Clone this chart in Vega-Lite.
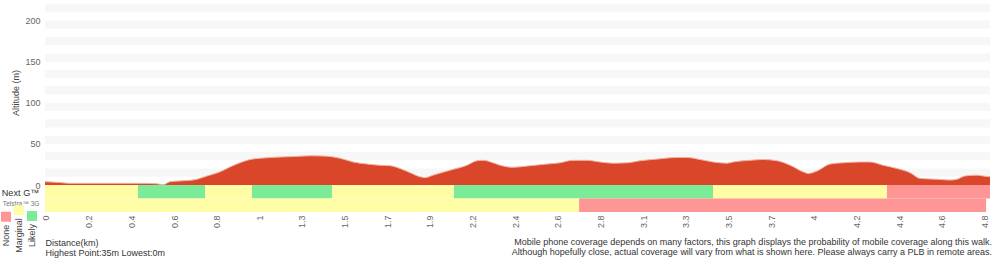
{
  "$schema": "https://vega.github.io/schema/vega-lite/v6.json",
  "padding": {"left": 1, "top": 0, "right": 10, "bottom": 0},
  "bounds": "flush",
  "spacing": 0,
  "config": {
    "view": {"stroke": null},
    "font": "Liberation Sans",
    "axis": {"labelFont": "Liberation Sans", "titleFont": "Liberation Sans", "labelColor": "#666", "titleColor": "#444", "titleFontWeight": "normal"}
  },
  "title": {
    "text": ["Mobile phone coverage depends on many factors, this graph displays the probability of mobile coverage along this walk.", "Although hopefully close, actual coverage will vary from what is shown here. Please always carry a PLB in remote areas."],
    "orient": "bottom", "anchor": "end", "fontSize": 9, "fontWeight": "normal", "color": "#333", "lineHeight": 10, "offset": -20, "font": "Liberation Sans"
  },
  "vconcat": [
    {
      "width": 945,
      "height": 185,
      "layer": [
        {
          "data": {"values": [
            {"lo": 10, "hi": 20}, {"lo": 30, "hi": 40}, {"lo": 50, "hi": 60}, {"lo": 70, "hi": 80},
            {"lo": 90, "hi": 100}, {"lo": 110, "hi": 120}, {"lo": 130, "hi": 140}, {"lo": 150, "hi": 160},
            {"lo": 170, "hi": 180}, {"lo": 190, "hi": 200}, {"lo": 210, "hi": 220}
          ]},
          "mark": {"type": "rect", "color": "#f7f7f7"},
          "encoding": {
            "y": {"field": "lo", "type": "quantitative", "scale": {"domain": [0, 225], "nice": false},
                  "axis": {"title": "Altitude (m)", "values": [0, 50, 100, 150, 200], "grid": false, "domain": false, "ticks": false, "labelFontSize": 9, "labelPadding": 5, "titleFontSize": 9, "titlePadding": 4}},
            "y2": {"field": "hi"}
          }
        },
        {
          "data": {"name": "profile", "values": [
            {"km": 0.000, "alt": 4}, {"km": 0.077, "alt": 3}, {"km": 0.128, "alt": 2}, {"km": 0.487, "alt": 2},
            {"km": 0.574, "alt": 1.5}, {"km": 0.605, "alt": 0.3}, {"km": 0.640, "alt": 4}, {"km": 0.692, "alt": 5},
            {"km": 0.758, "alt": 6}, {"km": 0.830, "alt": 11}, {"km": 0.897, "alt": 16}, {"km": 0.948, "alt": 22},
            {"km": 0.999, "alt": 27}, {"km": 1.050, "alt": 31}, {"km": 1.101, "alt": 32.5}, {"km": 1.204, "alt": 34},
            {"km": 1.306, "alt": 35}, {"km": 1.358, "alt": 35.5}, {"km": 1.445, "alt": 35}, {"km": 1.511, "alt": 32.5},
            {"km": 1.578, "alt": 28}, {"km": 1.650, "alt": 25.5}, {"km": 1.716, "alt": 24}, {"km": 1.767, "alt": 23.5},
            {"km": 1.819, "alt": 20}, {"km": 1.870, "alt": 15}, {"km": 1.921, "alt": 10}, {"km": 1.947, "alt": 9},
            {"km": 1.988, "alt": 12}, {"km": 2.075, "alt": 18}, {"km": 2.162, "alt": 24}, {"km": 2.213, "alt": 29.5},
            {"km": 2.244, "alt": 30}, {"km": 2.295, "alt": 27}, {"km": 2.331, "alt": 24}, {"km": 2.398, "alt": 21.5},
            {"km": 2.469, "alt": 23}, {"km": 2.572, "alt": 25.5}, {"km": 2.638, "alt": 27}, {"km": 2.705, "alt": 30},
            {"km": 2.777, "alt": 30}, {"km": 2.843, "alt": 28}, {"km": 2.910, "alt": 26.5}, {"km": 2.982, "alt": 27},
            {"km": 3.048, "alt": 29.5}, {"km": 3.135, "alt": 31.5}, {"km": 3.238, "alt": 33.5}, {"km": 3.289, "alt": 33.5},
            {"km": 3.356, "alt": 31}, {"km": 3.422, "alt": 28}, {"km": 3.494, "alt": 26.5}, {"km": 3.525, "alt": 28},
            {"km": 3.612, "alt": 30}, {"km": 3.678, "alt": 31}, {"km": 3.750, "alt": 29.5}, {"km": 3.817, "alt": 24},
            {"km": 3.883, "alt": 16}, {"km": 3.909, "alt": 14}, {"km": 3.955, "alt": 17}, {"km": 4.022, "alt": 25.5},
            {"km": 4.088, "alt": 27}, {"km": 4.175, "alt": 28}, {"km": 4.226, "alt": 28}, {"km": 4.293, "alt": 24},
            {"km": 4.365, "alt": 20}, {"km": 4.431, "alt": 15}, {"km": 4.483, "alt": 8}, {"km": 4.570, "alt": 7},
            {"km": 4.636, "alt": 6}, {"km": 4.672, "alt": 7}, {"km": 4.713, "alt": 11}, {"km": 4.775, "alt": 12},
            {"km": 4.805, "alt": 11}, {"km": 4.841, "alt": 10}
          ]},
          "layer": [
            {
              "mark": {"type": "area", "color": "#d9462a", "interpolate": "monotone"},
              "encoding": {
                "x": {"field": "km", "type": "quantitative", "scale": {"domain": [0, 4.841], "nice": false}, "axis": null},
                "y": {"field": "alt", "type": "quantitative", "scale": {"domain": [0, 225], "nice": false},
                      "axis": {"title": "Altitude (m)", "values": [0, 50, 100, 150, 200], "grid": false, "domain": false, "ticks": false, "labelFontSize": 9, "labelPadding": 5, "titleFontSize": 9, "titlePadding": 4}}
              }
            },
            {
              "mark": {"type": "line", "color": "#f0b4a4", "strokeWidth": 1, "interpolate": "monotone"},
              "encoding": {
                "x": {"field": "km", "type": "quantitative"},
                "y": {"field": "alt", "type": "quantitative"}
              }
            }
          ]
        }
      ]
    },
    {
      "width": 945,
      "height": 27,
      "data": {"values": [
        {"network": "Next G™", "start": 0.000, "end": 0.476, "coverage": "Marginal"},
        {"network": "Next G™", "start": 0.476, "end": 0.820, "coverage": "Likely"},
        {"network": "Next G™", "start": 0.820, "end": 1.060, "coverage": "Marginal"},
        {"network": "Next G™", "start": 1.060, "end": 1.470, "coverage": "Likely"},
        {"network": "Next G™", "start": 1.470, "end": 2.095, "coverage": "Marginal"},
        {"network": "Next G™", "start": 2.095, "end": 3.422, "coverage": "Likely"},
        {"network": "Next G™", "start": 3.422, "end": 4.313, "coverage": "Marginal"},
        {"network": "Next G™", "start": 4.313, "end": 4.841, "coverage": "None"},
        {"network": "Telstra™ 3G", "start": 0.000, "end": 2.736, "coverage": "Marginal"},
        {"network": "Telstra™ 3G", "start": 2.736, "end": 4.821, "coverage": "None"}
      ]},
      "mark": {"type": "rect"},
      "encoding": {
        "x": {"field": "start", "type": "quantitative", "scale": {"domain": [0, 4.841], "nice": false},
              "axis": {
                "values": [0, 0.2203, 0.4406, 0.6609, 0.8760, 1.0963, 1.3115, 1.5318, 1.7520, 1.9672, 2.1875, 2.4078, 2.6230, 2.8432, 3.0635, 3.2787, 3.4990, 3.7193, 3.9344, 4.1547, 4.3750, 4.5902, 4.8105],
                "labelExpr": "['0','0.2','0.4','0.6','0.8','1','1.3','1.5','1.7','1.9','2.2','2.4','2.6','2.8','3.1','3.3','3.5','3.7','4','4.2','4.4','4.6','4.8'][round(datum.value/0.21866)]",
                "labelAngle": -90, "labelAlign": "right", "labelBaseline": "middle", "labelPadding": 3, "labelFontSize": 9,
                "labelOverlap": false, "labelFlush": false,
                "ticks": false, "domain": false, "grid": false,
                "title": ["Distance(km)", "Highest Point:35m Lowest:0m"],
                "titleAnchor": "start", "titleAlign": "left", "titleFontSize": 9, "titleColor": "#333", "titleLineHeight": 10, "titlePadding": 11
              }},
        "x2": {"field": "end"},
        "y": {"field": "network", "type": "nominal", "sort": ["Next G™", "Telstra™ 3G"],
              "scale": {"paddingInner": 0, "paddingOuter": 0},
              "axis": {"title": null, "domain": false, "ticks": false, "labelPadding": 6,
                       "labelOffset": {"condition": {"test": "datum.value === 'Telstra™ 3G'", "value": -1}, "value": 1.5},
                       "labelFontSize": {"condition": {"test": "datum.value === 'Telstra™ 3G'", "value": 6.6}, "value": 9.2},
                       "labelColor": {"condition": {"test": "datum.value === 'Telstra™ 3G'", "value": "#777"}, "value": "#333"}}},
        "color": {"field": "coverage", "type": "nominal",
                  "scale": {"domain": ["None", "Marginal", "Likely"], "range": ["#ff9696", "#fffda6", "#7ceb97"]},
                  "legend": {"orient": "none", "legendX": -44, "legendY": 205, "direction": "horizontal", "title": null,
                             "symbolType": "square", "symbolSize": 100, "symbolStrokeWidth": 0, "columnPadding": 3,
                             "labelFontSize": 9, "labelColor": "#444", "labelOffset": -5, "labelAlign": "right", "labelBaseline": "middle",
                             "encode": {
                               "labels": {"update": {"angle": {"value": -90}, "dx": {"value": -8}}}
                             }}}
      }
    }
  ]
}
